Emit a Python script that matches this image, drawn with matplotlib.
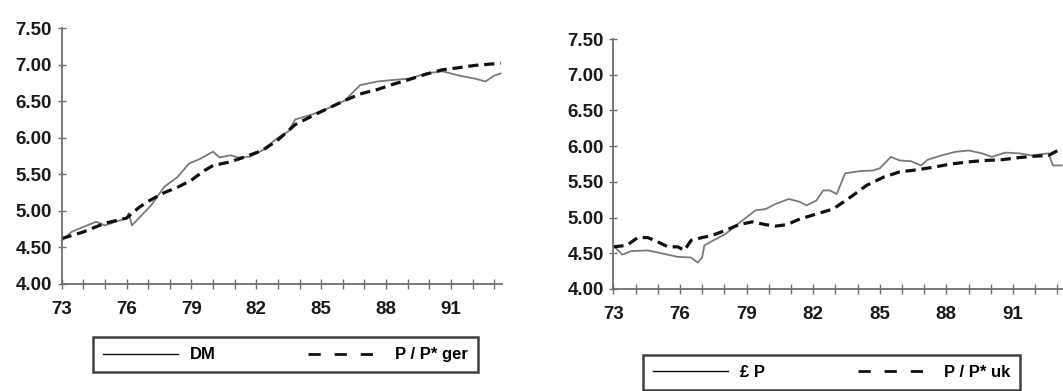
import matplotlib
matplotlib.use("Agg")
import matplotlib.pyplot as plt
from matplotlib.lines import Line2D

plt.rcParams['font.family'] = ['Liberation Sans', 'DejaVu Sans']
plt.rcParams['font.weight'] = 'bold'

# --- Germany: DM exchange rate (log) and relative prices P/P* ---
ger_dm_years = [73.0, 73.45, 74.0, 74.6, 75.0, 75.5, 76.0, 76.1, 76.25, 76.7, 77.15, 77.75,
                78.35, 78.9, 79.4, 80.0, 80.3, 80.8, 81.15, 81.7, 82.3, 83.0, 83.5, 83.8,
                84.6, 85.3, 86.1, 86.8, 87.6, 88.3, 89.1, 89.85, 90.6, 91.4, 92.1, 92.6,
                93.0, 93.3]
ger_dm = [4.59, 4.71, 4.78, 4.85, 4.80, 4.85, 4.90, 4.97, 4.80, 4.94, 5.08, 5.33,
          5.46, 5.65, 5.71, 5.81, 5.73, 5.76, 5.73, 5.74, 5.83, 6.00, 6.09, 6.25,
          6.32, 6.40, 6.51, 6.72, 6.77, 6.79, 6.81, 6.88, 6.91, 6.85, 6.81, 6.77,
          6.85, 6.88]
ger_pp_years = [73.0, 74.0, 75.0, 76.0, 76.55, 77.0, 77.75, 78.35, 79.0, 79.6, 80.0, 80.8,
                81.5, 82.3, 83.0, 83.8, 84.6, 85.3, 86.1, 86.8, 87.6, 88.3, 89.1, 89.85,
                90.6, 91.4, 92.1, 93.3]
ger_pp = [4.62, 4.71, 4.83, 4.90, 5.04, 5.13, 5.25, 5.32, 5.42, 5.55, 5.62, 5.67,
          5.74, 5.83, 5.97, 6.18, 6.30, 6.40, 6.51, 6.60, 6.66, 6.73, 6.80, 6.87,
          6.93, 6.96, 6.99, 7.02]

# --- UK: pound exchange rate (log) and relative prices P/P* ---
uk_gbp_years = [73.0, 73.4, 73.8, 74.55, 75.3, 75.9, 76.5, 76.8, 77.0, 77.1, 77.5, 78.05,
                78.65, 79.4, 79.87, 80.3, 80.9, 81.4, 81.7, 82.15, 82.45, 82.75, 83.06,
                83.44, 84.1, 84.7, 85.0, 85.5, 85.9, 86.4, 86.86, 87.16, 87.77, 88.4,
                89.0, 89.6, 90.05, 90.66, 91.27, 91.87, 92.6, 92.8, 93.2]
uk_gbp = [4.61, 4.48, 4.53, 4.54, 4.49, 4.45, 4.44, 4.37, 4.44, 4.61, 4.68, 4.77,
          4.92, 5.10, 5.12, 5.19, 5.26, 5.22, 5.17, 5.24, 5.38, 5.38, 5.33,
          5.62, 5.65, 5.66, 5.69, 5.85, 5.80, 5.79, 5.73, 5.81, 5.87, 5.92,
          5.94, 5.90, 5.85, 5.91, 5.90, 5.87, 5.90, 5.73, 5.73]
uk_pp_years = [73.0, 73.6, 74.1, 74.55, 75.0, 75.46, 75.9, 76.2, 76.5, 77.0, 77.45, 78.05,
               78.65, 79.26, 79.87, 80.3, 80.8, 81.4, 82.15, 82.9, 83.7, 84.4, 85.2,
               85.9, 86.7, 87.5, 88.2, 89.0, 89.75, 90.5, 91.27, 92.0, 92.6, 93.2]
uk_pp = [4.59, 4.61, 4.72, 4.72, 4.66, 4.59, 4.59, 4.54, 4.68, 4.72, 4.75, 4.82,
         4.90, 4.94, 4.90, 4.88, 4.90, 4.98, 5.05, 5.12, 5.29, 5.45, 5.57,
         5.64, 5.67, 5.71, 5.75, 5.78, 5.80, 5.81, 5.84, 5.86, 5.87, 5.97]

xticks = [73, 76, 79, 82, 85, 88, 91]
yticks = [4.0, 4.5, 5.0, 5.5, 6.0, 6.5, 7.0, 7.5]

fig = plt.figure(figsize=(10.63, 3.91), dpi=100)
ax1 = fig.add_axes([0.058, 0.274, 0.414, 0.654])
ax2 = fig.add_axes([0.577, 0.261, 0.425, 0.639])

AXC = '#6f6f6f'


def style(ax):
    ax.set_xlim(73, 93.35)
    ax.set_ylim(4.0, 7.5)
    for s in ['top', 'right']:
        ax.spines[s].set_visible(False)
    for s in ['left', 'bottom']:
        ax.spines[s].set_color(AXC)
        ax.spines[s].set_linewidth(1.3)
    ax.set_yticks(yticks)
    ax.set_yticklabels(['%.2f' % v for v in yticks])
    ax.set_xticks(range(73, 94), minor=True)
    ax.set_xticks(xticks)
    ax.set_xticklabels([str(v) for v in xticks])
    ax.tick_params(axis='y', direction='inout', length=6, width=1, color=AXC,
                   labelsize=13.5, pad=4, labelcolor='#1a1a1a')
    ax.tick_params(axis='x', which='both', direction='inout', length=7, width=1,
                   color=AXC, labelsize=13.5, pad=9, labelcolor='#1a1a1a')
    for lab in ax.get_xticklabels() + ax.get_yticklabels():
        lab.set_fontweight('bold')


style(ax1)
style(ax2)

ax1.plot(ger_dm_years, ger_dm, color='#7a7a7a', lw=1.3, clip_on=False)
ax1.plot(ger_pp_years, ger_pp, color='#111111', lw=2.3, dashes=(3.2, 1.8), clip_on=False)
ax2.plot(uk_gbp_years, uk_gbp, color='#7a7a7a', lw=1.3, clip_on=False)
ax2.plot(uk_pp_years, uk_pp, color='#111111', lw=2.3, dashes=(3.2, 1.8), clip_on=False)


def make_legend(ax, labels, box):
    handles = [Line2D([], [], color='#111111', lw=1.0),
               Line2D([], [], color='#111111', lw=2.0, dashes=(4.4, 5.0))]
    leg = ax.legend(handles, labels, loc='center', bbox_to_anchor=box,
                    bbox_transform=fig.transFigure, mode='expand', ncol=2,
                    frameon=True, fancybox=False, handlelength=4.5,
                    handletextpad=0.7, borderaxespad=0, borderpad=0.6,
                    prop={'weight': 'bold', 'size': 12})
    fr = leg.get_frame()
    fr.set_edgecolor('#111111')
    fr.set_linewidth(1.8)
    return leg


make_legend(ax1, ['DM', 'P / P* ger'], (0.0875, 0.036, 0.362, 0.1125))
make_legend(ax2, ['£ P', 'P / P* uk'], (0.605, -0.012, 0.355, 0.117))

fig.savefig('out.png', dpi=100)
